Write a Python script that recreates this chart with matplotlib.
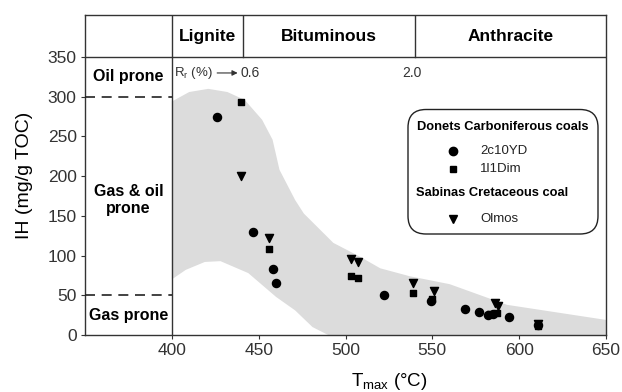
import matplotlib
matplotlib.use("Agg")
import matplotlib.pyplot as plt
from matplotlib.patches import FancyBboxPatch, Polygon
from matplotlib.lines import Line2D

plt.rcParams['font.family'] = ['Liberation Sans', 'DejaVu Sans']

# data
tmax_2c10yd = [426, 447, 458, 460, 522, 549, 569, 577, 582, 585, 594, 611]
ih_2c10yd = [275, 130, 83, 66, 50, 43, 33, 29, 25, 27, 23, 13]

tmax_1l1dim = [440, 456, 503, 507, 539, 550, 583, 587, 611]
ih_1l1dim = [293, 108, 74, 72, 53, 45, 26, 28, 11]

tmax_olmos = [440, 456, 503, 507, 539, 551, 586, 588, 611]
ih_olmos = [200, 122, 96, 92, 66, 56, 40, 37, 14]

# envelope of the grey field (upper edge left->right, lower edge right->left)
env_upper_x = [400, 410, 421, 432, 442, 452, 458, 462, 471, 476, 493, 508, 520, 537, 560, 593, 650]
env_upper_y = [294, 306, 310, 306, 296, 271, 246, 208, 170, 153, 116, 99, 84, 74, 64, 38, 19]
env_lower_x = [650, 490, 481, 471, 460, 444, 428, 419, 408, 400]
env_lower_y = [0, 0, 10, 31, 48, 78, 93, 92, 82, 70]

rank_edges = [400, 441, 540, 650]
rank_names = ['Lignite', 'Bituminous', 'Anthracite']

fig = plt.figure(figsize=(6.22, 3.92), dpi=100)
ax = fig.add_axes([85 / 622, 1 - 335 / 392, 521 / 622, 320 / 392])
ax.set_xlim(350, 650)
ax.set_ylim(0, 403)

# grey field
poly = Polygon(list(zip(env_upper_x + env_lower_x, env_upper_y + env_lower_y)),
               closed=True, facecolor='#dcdcdc', edgecolor='none', zorder=1)
ax.add_patch(poly)

# frame lines
ax.axhline(350, color='#333333', lw=1.0, zorder=3)
ax.axvline(400, color='#333333', lw=1.0, zorder=3)
for xe in rank_edges[1:-1]:
    ax.plot([xe, xe], [350, 403], color='#333333', lw=1.0, zorder=3)
for i, name in enumerate(rank_names):
    ax.text((rank_edges[i] + rank_edges[i + 1]) / 2, 376, name, ha='center', va='center',
            fontsize=12.5, fontweight='bold')

# prone zones
for yv in [300, 50]:
    ax.plot([350, 400], [yv, yv], color='#222222', lw=1.2, ls=(0, (6, 4)), zorder=3)
ax.text(375, 325, 'Oil prone', ha='center', va='center', fontsize=11.5, fontweight='bold')
ax.text(375, 170, 'Gas & oil\nprone', ha='center', va='center', fontsize=11.5, fontweight='bold',
        linespacing=1.2)
ax.text(375, 25, 'Gas prone', ha='center', va='center', fontsize=11.5, fontweight='bold')

# reflectance labels
ax.annotate('', xy=(439.5, 330), xytext=(424.5, 330),
            arrowprops=dict(arrowstyle='-|>', color='#333333', lw=0.8, mutation_scale=8))
ax.text(401.5, 330, 'R$_\\mathregular{r}$ (%)', ha='left', va='center', fontsize=9.5, color='#333333')
ax.text(439.5, 330, '0.6', ha='left', va='center', fontsize=10, color='#333333')
ax.text(538, 330, '2.0', ha='center', va='center', fontsize=10, color='#333333')

# data points
ax.scatter(tmax_2c10yd, ih_2c10yd, marker='o', s=34, color='black', zorder=4)
ax.scatter(tmax_1l1dim, ih_1l1dim, marker='s', s=24, color='black', zorder=4)
ax.scatter(tmax_olmos, ih_olmos, marker='v', s=34, color='black', zorder=4)

# axes styling
ax.set_xticks([400, 450, 500, 550, 600, 650])
ax.set_yticks([0, 50, 100, 150, 200, 250, 300, 350])
ax.tick_params(direction='out', length=3, width=0.8, labelsize=12.5, colors='#333333', pad=3)
for sp in ax.spines.values():
    sp.set_color('#333333')
    sp.set_linewidth(1.0)
ax.set_ylabel('IH (mg/g TOC)', fontsize=14)
ax.yaxis.set_label_coords(-0.1, 0.5)
ax.text(525, -58, 'T$_\\mathregular{max}$ (°C)', ha='center', va='center', fontsize=13.5)

# legend box (drawn by hand)
box = FancyBboxPatch((4.08, 1.58), 1.90, 1.245,
                     boxstyle='round,pad=0,rounding_size=0.18',
                     transform=fig.dpi_scale_trans, facecolor='white',
                     edgecolor='#222222', lw=1.0, zorder=5)
fig.patches.append(box)
fig.text(503 / 622, 1 - 127 / 392, 'Donets Carboniferous coals', ha='center', va='center',
         fontsize=9.3, fontweight='bold', zorder=6)
fig.text(416 / 622, 1 - 193 / 392, 'Sabinas Cretaceous coal', ha='left', va='center',
         fontsize=9.3, fontweight='bold', zorder=6)
entries = [('o', '2c10YD', 151), ('s', '1l1Dim', 169), ('v', 'Olmos', 219)]
for mk, lab, py in entries:
    fig.lines.append(Line2D([453 / 622], [1 - py / 392], marker=mk, color='black', ls='none',
                            markersize=6 if mk != 's' else 5, transform=fig.transFigure, zorder=6))
    fig.text(480 / 622, 1 - py / 392, lab, ha='left', va='center', fontsize=9.5,
             color='#222222', zorder=6)

fig.savefig('out.png', dpi=100)
